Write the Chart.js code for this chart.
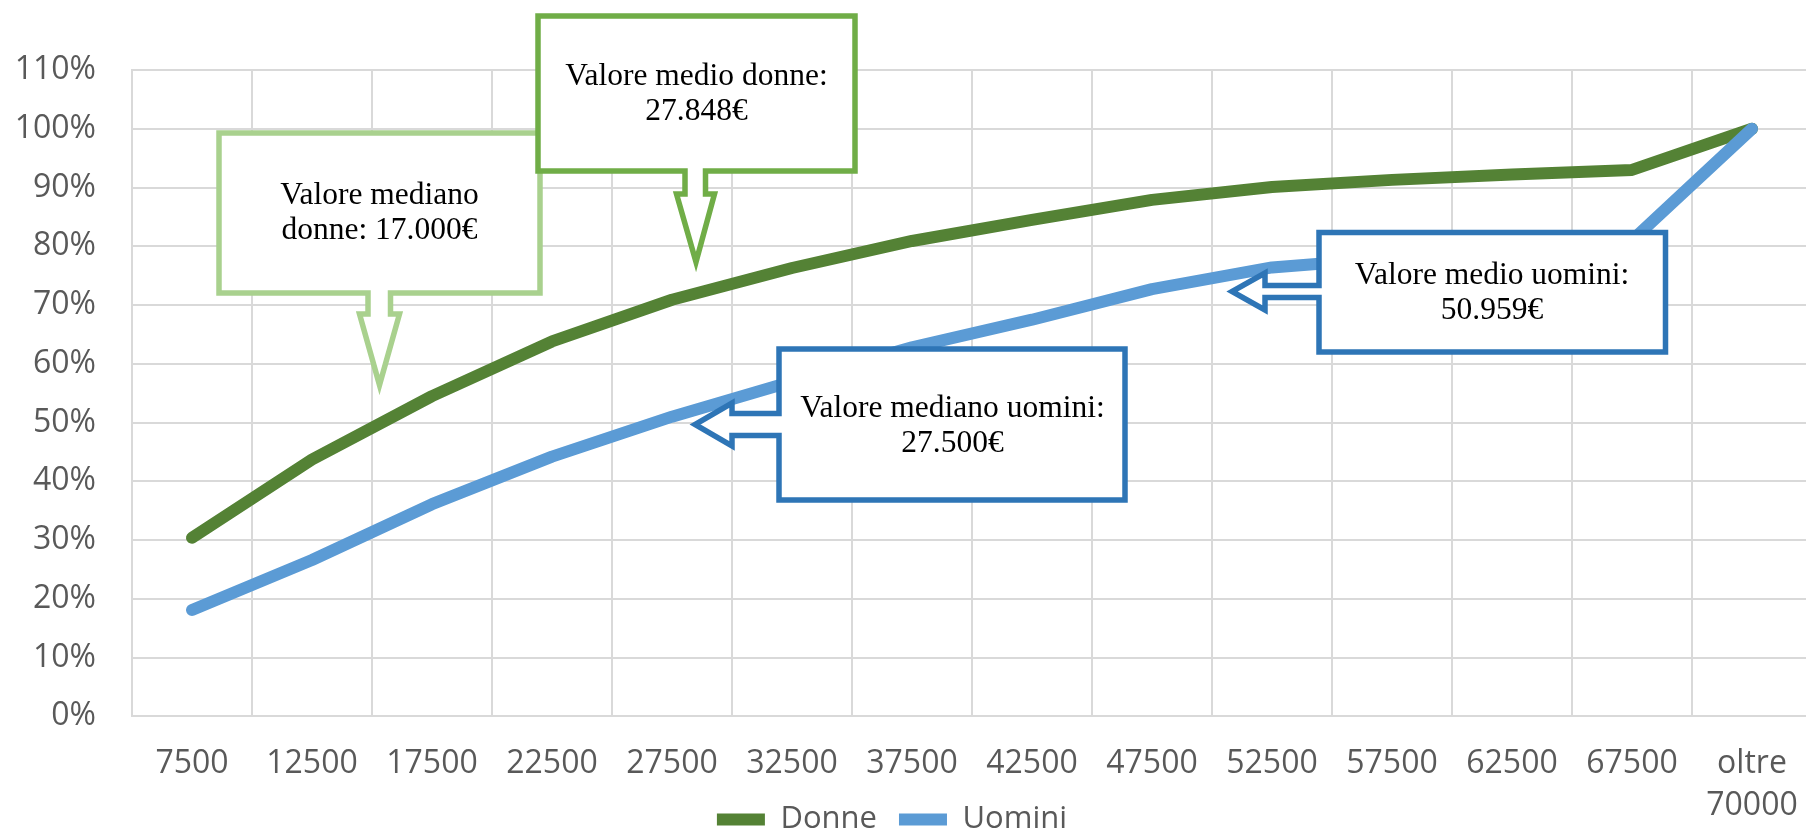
<!DOCTYPE html>
<html>
<head>
<meta charset="utf-8">
<script src="https://cdn.jsdelivr.net/npm/chart.js@4"></script>
<style>
  html, body { margin:0; padding:0; background:#fff; overflow:hidden; }
  #wrap { width:1806px; height:832px; overflow:hidden; }
  canvas { display:block; }
</style>
</head>
<body>
<div id="wrap"><canvas id="chart" width="1816" height="845"></canvas></div>
<script>
// ---- DATA ----
const categories = ['7500','12500','17500','22500','27500','32500','37500','42500','47500','52500','57500','62500','67500',['oltre','70000']];
const donne  = [30.4, 43.7, 54.5, 63.8, 70.9, 76.3, 80.9, 84.5, 87.9, 90.1, 91.3, 92.2, 93.0, 100];
const uomini = [18.1, 26.6, 36.1, 44.2, 51.0, 57.0, 62.8, 67.5, 72.7, 76.4, 78.0, 79.5, 81.0, 100];
const yTicks = { min:0, max:110, step:10 };

const GRID = '#D9D9D9';
const AXIS_TXT = '#595959';

// ---- CALLOUTS (drawn over the lines) ----
const callouts = [
  { color:'#A9D18E', dir:'down', box:[219,133,540,293], shaft:[368,390.5], neck:314, head:[359.5,399.5], tip:[379.5,385],
    lines:['Valore mediano','donne: 17.000€'], tx:379.5, ty:[196,231] },
  { color:'#70AD47', dir:'down', box:[538,16,855,171], shaft:[685,705.5], neck:194, head:[676.5,714.5], tip:[696,262],
    lines:['Valore medio donne:','27.848€'], tx:696.5, ty:[77,112] },
  { color:'#2E75B6', dir:'left', box:[779,349,1125,500], shaft:[413.5,435.5], neck:732, head:[403,446], tip:[695,424.5],
    lines:['Valore mediano uomini:','27.500€'], tx:952.5, ty:[409,444] },
  { color:'#2E75B6', dir:'left', box:[1319,232.5,1665.5,352], shaft:[285.5,297.5], neck:1265, head:[273,310], tip:[1232,291.5],
    lines:['Valore medio uomini:','50.959€'], tx:1492, ty:[276,310.5] }
];

function calloutPath(ctx, c) {
  const [L,T,R,B] = c.box;
  ctx.beginPath();
  if (c.dir === 'down') {
    ctx.moveTo(L,T); ctx.lineTo(R,T); ctx.lineTo(R,B);
    ctx.lineTo(c.shaft[1],B); ctx.lineTo(c.shaft[1],c.neck); ctx.lineTo(c.head[1],c.neck);
    ctx.lineTo(c.tip[0],c.tip[1]);
    ctx.lineTo(c.head[0],c.neck); ctx.lineTo(c.shaft[0],c.neck); ctx.lineTo(c.shaft[0],B);
    ctx.lineTo(L,B);
  } else {
    ctx.moveTo(L,T); ctx.lineTo(R,T); ctx.lineTo(R,B); ctx.lineTo(L,B);
    ctx.lineTo(L,c.shaft[1]); ctx.lineTo(c.neck,c.shaft[1]); ctx.lineTo(c.neck,c.head[1]);
    ctx.lineTo(c.tip[0],c.tip[1]);
    ctx.lineTo(c.neck,c.head[0]); ctx.lineTo(c.neck,c.shaft[0]); ctx.lineTo(L,c.shaft[0]);
  }
  ctx.closePath();
}

const calloutPlugin = {
  id:'callouts',
  // let the two-line x label ("oltre / 70000") run into the legend band instead of being clipped
  afterLayout(chart) {
    const x = chart.scales.x;
    x.bottom = x.top + 120;
  },
  afterDatasetsDraw(chart) {
    const ctx = chart.ctx;
    ctx.save();
    callouts.forEach(c => {
      calloutPath(ctx, c);
      ctx.fillStyle = '#fff';
      ctx.fill();
      ctx.lineWidth = 5.5;
      ctx.lineJoin = 'miter';
      ctx.strokeStyle = c.color;
      ctx.stroke();
      ctx.fillStyle = '#000';
      ctx.font = '31.5px "Liberation Serif"';
      ctx.textAlign = 'center';
      ctx.textBaseline = 'middle';
      c.lines.forEach((t,i) => ctx.fillText(t, c.tx, c.ty[i]));
    });
    ctx.restore();
  }
};

// ---- CHART ----
new Chart(document.getElementById('chart'), {
  type:'line',
  data:{
    labels:categories,
    datasets:[
      { label:'Donne', data:donne, borderColor:'#548235', backgroundColor:'#548235', borderWidth:12,
        pointRadius:0, pointHoverRadius:0, tension:0, borderCapStyle:'round', borderJoinStyle:'round', order:2 },
      { label:'Uomini', data:uomini, borderColor:'#5B9BD5', backgroundColor:'#5B9BD5', borderWidth:12,
        pointRadius:0, pointHoverRadius:0, tension:0, borderCapStyle:'round', borderJoinStyle:'round', order:1 }
    ]
  },
  options:{
    responsive:false, animation:false, devicePixelRatio:1,
    layout:{ padding:{ top:70, right:4, left:-28, bottom:0 } },
    plugins:{
      tooltip:{ enabled:false },
      legend:{
        position:'bottom',
        labels:{ usePointStyle:true, pointStyle:'line', pointStyleWidth:48, padding:22,
                 sort:(a,b) => a.datasetIndex - b.datasetIndex,
                 color:AXIS_TXT, font:{ family:'"Open Sans"', size:31 } }
      }
    },
    scales:{
      x:{
        offset:true,
        grid:{ offset:true, color:GRID, lineWidth:2, drawTicks:true, tickLength:27, tickColor:'rgba(0,0,0,0)' },
        border:{ color:GRID, width:2 },
        ticks:{ color:AXIS_TXT, font:{ family:'"Open Sans"', size:32, lineHeight:1.3 }, padding:0,
                autoSkip:false, maxRotation:0, minRotation:0 },
        afterFit(s) { s.height = 65.7; }
      },
      y:{
        min:yTicks.min, max:yTicks.max,
        grid:{ color:GRID, lineWidth:2, drawTicks:false },
        border:{ color:GRID, width:2 },
        ticks:{ stepSize:yTicks.step, color:AXIS_TXT, font:{ family:'"Open Sans"', size:32 }, padding:36,
                callback:v => v + '%' },
        afterFit(s) { s.width = 160; }
      }
    }
  },
  plugins:[calloutPlugin]
});
</script>
</body>
</html>
